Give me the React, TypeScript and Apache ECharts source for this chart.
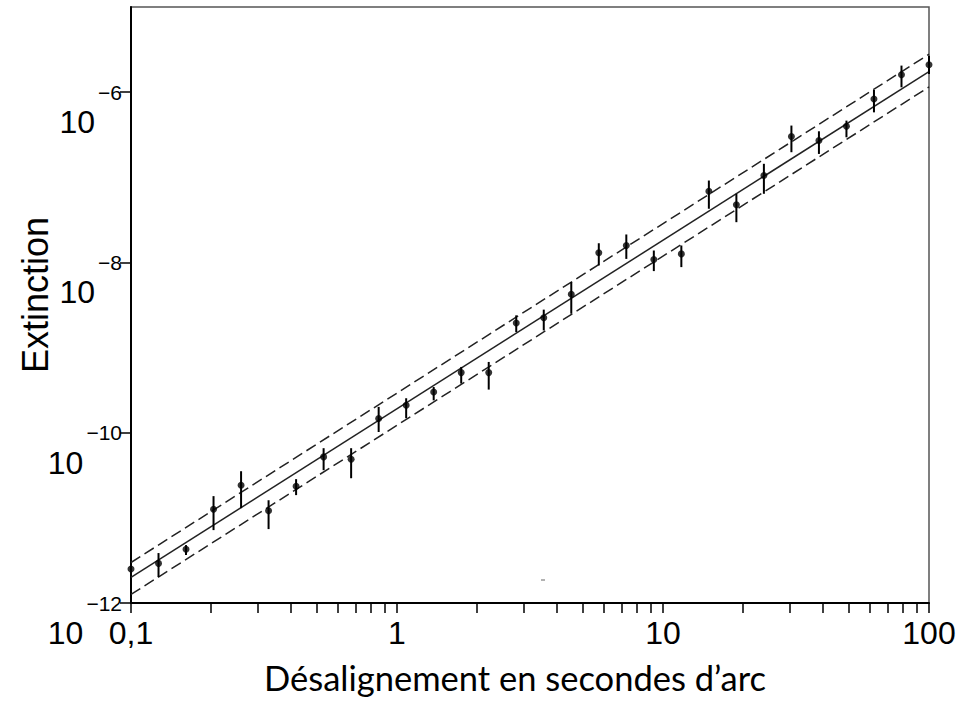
import React, { useEffect, useRef } from "react";
import * as echarts from "echarts";

// Désalignement (secondes d'arc)
const xValues = [
  0.1, 0.1269, 0.161, 0.2043, 0.2593, 0.329, 0.4175, 0.5298, 0.6723, 0.8532,
  1.0826, 1.3738, 1.7433, 2.2122, 2.8072, 3.5622, 4.5204, 5.7362, 7.279, 9.2367,
  11.721, 14.874, 18.874, 23.95, 30.392, 38.566, 48.939, 62.102, 78.805, 100,
];
// Extinction (measured)
const yValues = [
  2.51e-12, 2.92e-12, 4.27e-12, 1.26e-11, 2.42e-11, 1.21e-11, 2.35e-11, 5.2e-11, 4.89e-11, 1.47e-10,
  2.1e-10, 3.01e-10, 5.08e-10, 5.08e-10, 1.94e-9, 2.24e-9, 4.22e-9, 1.3e-8, 1.58e-8, 1.08e-8,
  1.26e-8, 6.85e-8, 4.75e-8, 1.05e-7, 3.01e-7, 2.7e-7, 3.97e-7, 8.32e-7, 1.6e-6, 2.1e-6,
];
const yLow = [
  2.19e-12, 2.02e-12, 3.66e-12, 7.18e-12, 1.3e-11, 7.38e-12, 1.85e-11, 3.63e-11, 2.92e-11, 1.02e-10,
  1.48e-10, 2.4e-10, 3.78e-10, 3.21e-10, 1.52e-9, 1.59e-9, 2.5e-9, 9.23e-9, 1.1e-8, 7.91e-9,
  8.81e-9, 4.27e-8, 2.97e-8, 6.4e-8, 1.97e-7, 1.88e-7, 2.95e-7, 5.79e-7, 1.14e-6, 1.63e-6,
];
const yHigh = [
  2.86e-12, 3.86e-12, 4.79e-12, 1.8e-11, 3.53e-11, 1.61e-11, 2.85e-11, 6.58e-11, 6.58e-11, 2.01e-10,
  2.54e-10, 3.44e-10, 5.92e-10, 6.78e-10, 2.39e-9, 2.79e-9, 5.87e-9, 1.68e-8, 2.13e-8, 1.38e-8,
  1.58e-8, 9.16e-8, 6.4e-8, 1.44e-7, 4.05e-7, 3.47e-7, 4.63e-7, 1.06e-6, 2.05e-6, 2.68e-6,
];

// Fit line and its bounds (endpoints at x = 0.1 and x = 100)
const fitX = [0.1, 100];
const fitY = [2.0e-12, 1.74e-6];
const upperY = [2.99e-12, 2.79e-6];
const lowerY = [1.26e-12, 1.15e-6];

// Ticks
const xLabelTicks = [0.1, 1, 10, 100];
const xTickLabels = ["0,1", "1", "10", "100"];
const xAllTicks = [
  0.1, 0.2, 0.3, 0.4, 0.5, 0.6, 0.7, 0.8, 0.9,
  1, 2, 3, 4, 5, 6, 7, 8, 9,
  10, 20, 30, 40, 50, 60, 70, 80, 90, 100,
];
const yLabelTicks = [1e-12, 1e-10, 1e-8, 1e-6];

const xTitle = "Désalignement en secondes d\u2019arc";
const yTitle = "Extinction";

const tickFont = "Arial";
const titleFont = "Lato";

export default function App() {
  const ref = useRef<HTMLDivElement>(null);

  useEffect(() => {
    if (!ref.current) return;
    const chart = echarts.init(ref.current, undefined, { renderer: "svg" });

    const pts = xValues.map((x, i) => [x, yValues[i]]);
    const bars = xValues.map((x, i) => [x, yLow[i], yHigh[i]]);

    const option: any = {
      animation: false,
      backgroundColor: "#ffffff",
      grid: {
        left: 131,
        right: 37,
        top: 7,
        bottom: 98,
        containLabel: false,
        outerBoundsMode: "none",
        show: true,
        borderColor: "#555555",
        borderWidth: 1.5,
        backgroundColor: "transparent",
      },
      xAxis: {
        type: "log",
        logBase: 10,
        min: 0.1,
        max: 100,
        name: xTitle,
        nameLocation: "middle",
        nameGap: 57,
        nameMoveOverlap: false,
        nameTextStyle: {
          fontFamily: titleFont,
          fontSize: 34.5,
          color: "#000",
          padding: [0, 30, 0, 0],
        },
        axisLine: { show: true, onZero: false, lineStyle: { color: "#000", width: 2 } },
        axisTick: {
          show: true,
          inside: false,
          length: 10,
          customValues: xAllTicks,
          lineStyle: { color: "#000", width: 1.5 },
        },
        axisLabel: {
          customValues: xLabelTicks,
          margin: 14,
          fontFamily: tickFont,
          fontSize: 32,
          color: "#000",
          formatter: (v: number) => {
            const i = xLabelTicks.findIndex((t) => Math.abs(Math.log10(t) - Math.log10(v)) < 1e-6);
            return i >= 0 ? xTickLabels[i] : "";
          },
        },
        splitLine: { show: false },
        minorTick: { show: false },
      },
      yAxis: {
        type: "log",
        logBase: 10,
        min: 1e-12,
        max: 1e-5,
        name: yTitle,
        nameLocation: "middle",
        nameRotate: 90,
        nameGap: 78,
        nameMoveOverlap: false,
        nameTextStyle: {
          fontFamily: tickFont,
          fontSize: 36,
          color: "#000",
          padding: [0, 0, 0, 20],
        },
        axisLine: { show: true, onZero: false, lineStyle: { color: "#000", width: 2 } },
        axisTick: {
          show: true,
          inside: false,
          length: 11,
          customValues: yLabelTicks,
          lineStyle: { color: "#000", width: 1.5 },
        },
        axisLabel: {
          customValues: yLabelTicks,
          margin: 9,
          color: "#000",
          fontFamily: tickFont,
          formatter: (v: number) => {
            const e = Math.round(Math.log10(v));
            return "{b|10}{e|\u2212" + Math.abs(e) + "}";
          },
          rich: {
            b: {
              fontFamily: tickFont,
              fontSize: 32,
              height: 32,
              color: "#000",
              verticalAlign: "bottom",
              padding: [60, 3, 0, 0],
            },
            e: {
              fontFamily: tickFont,
              fontSize: 21,
              height: 22,
              color: "#000",
              verticalAlign: "top",
              padding: [35, 0, 0, 0],
            },
          },
        },
        splitLine: { show: false },
      },
      series: [
        {
          type: "line",
          name: "upper",
          data: fitX.map((x, i) => [x, upperY[i]]),
          showSymbol: false,
          symbol: "none",
          lineStyle: { color: "#222", width: 1.5, type: [11, 5] },
          z: 2,
        },
        {
          type: "line",
          name: "fit",
          data: fitX.map((x, i) => [x, fitY[i]]),
          showSymbol: false,
          symbol: "none",
          lineStyle: { color: "#222", width: 1.5 },
          z: 2,
        },
        {
          type: "line",
          name: "lower",
          data: fitX.map((x, i) => [x, lowerY[i]]),
          showSymbol: false,
          symbol: "none",
          lineStyle: { color: "#222", width: 1.5, type: [11, 5] },
          z: 2,
        },
        {
          type: "custom",
          name: "errors",
          clip: false,
          data: bars,
          encode: { x: 0, y: [1, 2] },
          renderItem: (params: any, api: any) => {
            const x = api.value(0);
            const p1 = api.coord([x, api.value(1)]);
            const p2 = api.coord([x, api.value(2)]);
            return {
              type: "line",
              shape: { x1: p1[0], y1: p1[1], x2: p2[0], y2: p2[1] },
              style: { stroke: "#000", lineWidth: 2 },
            };
          },
          z: 3,
        },
        {
          type: "scatter",
          name: "points",
          data: pts,
          symbol: "circle",
          symbolSize: 7,
          itemStyle: { color: "#000" },
          z: 4,
        },
      ],
      graphic: [
        {
          type: "line",
          shape: { x1: 541, y1: 580, x2: 545, y2: 580 },
          style: { stroke: "#666", lineWidth: 1 },
        },
      ],
    };

    chart.setOption(option);
    return () => chart.dispose();
  }, []);

  return (
    <div
      ref={ref}
      style={{ position: "fixed", left: 0, top: 0, width: 966, height: 701, background: "#fff" }}
    />
  );
}
